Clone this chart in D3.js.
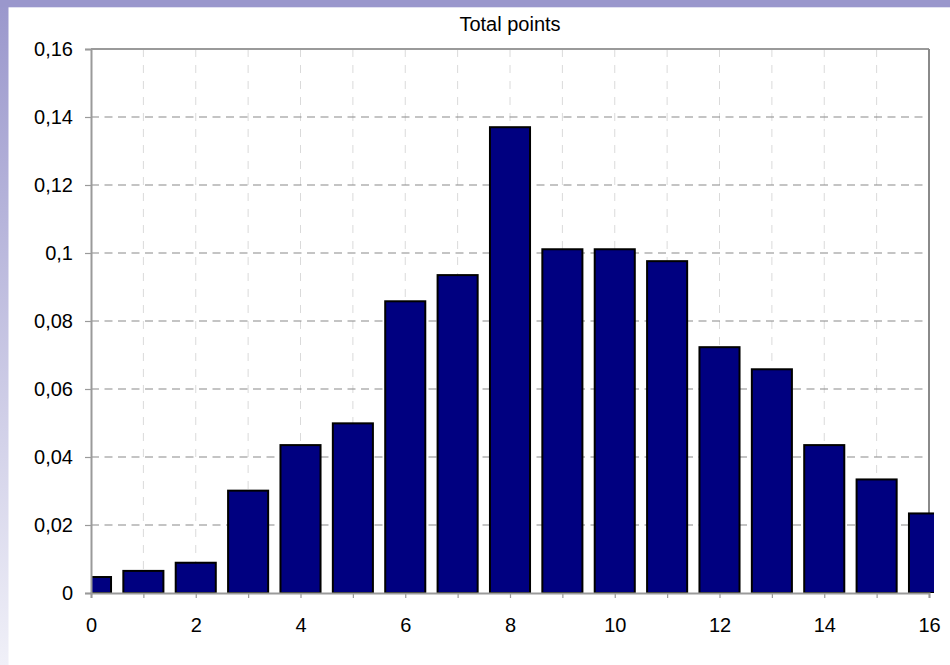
<!DOCTYPE html>
<html>
<head>
<meta charset="utf-8">
<script src="https://cdn.jsdelivr.net/npm/d3@7"></script>
<style>
  html, body { margin: 0; padding: 0; background: #fff; }
  svg { display: block; font-family: "Liberation Sans", Arial, sans-serif; }
</style>
</head>
<body>
<svg id="chart" width="950" height="665"></svg>
<script>
// ---- data ----
const categories = [0, 1, 2, 3, 4, 5, 6, 7, 8, 9, 10, 11, 12, 13, 14, 15, 16];
const values = [0.0047, 0.0065, 0.0089, 0.0301, 0.0435, 0.0499, 0.0858, 0.0935, 0.137,
                0.1011, 0.1011, 0.0976, 0.0723, 0.0658, 0.0435, 0.0334, 0.0234];
const yTicks = [0, 0.02, 0.04, 0.06, 0.08, 0.1, 0.12, 0.14, 0.16];
const xTicks = [0, 2, 4, 6, 8, 10, 12, 14, 16];
const xMinorTicks = d3.range(0, 17, 1);
const title = "Total points";

const W = 950, H = 665;
const margin = { left: 91, right: 950 - 929, top: 49, bottom: 665 - 593 };
const svg = d3.select("#chart");

// background frame
const defs = svg.append("defs");
const grad = defs.append("linearGradient").attr("id", "leftGrad")
  .attr("x1", 0).attr("y1", 0).attr("x2", 0).attr("y2", 1);
grad.append("stop").attr("offset", "0%").attr("stop-color", "#9a97cc");
grad.append("stop").attr("offset", "100%").attr("stop-color", "#f0f0f8");
svg.append("rect").attr("x", 0).attr("y", 0).attr("width", W).attr("height", H).attr("fill", "#fff");
svg.append("rect").attr("x", 0).attr("y", 0).attr("width", 8.5).attr("height", H).attr("fill", "url(#leftGrad)");
svg.append("rect").attr("x", 0).attr("y", 0).attr("width", W).attr("height", 7.3).attr("fill", "#9a97cc");

const x = d3.scaleLinear().domain([0, 16]).range([margin.left, W - margin.right]);
const y = d3.scaleLinear().domain([0, 0.16]).range([H - margin.bottom, margin.top]);
const unit = x(1) - x(0);
const barW = unit * 0.765;

// vertical gridlines
svg.append("g").selectAll("line").data(xMinorTicks.filter(d => d > 0 && d < 16)).join("line")
  .attr("x1", d => x(d)).attr("x2", d => x(d))
  .attr("y1", y(0.16)).attr("y2", y(0))
  .attr("stroke", "#dadada").attr("stroke-width", 1).attr("stroke-dasharray", "8,8");

// horizontal gridlines
svg.append("g").selectAll("line").data(yTicks.filter(d => d > 0 && d < 0.16)).join("line")
  .attr("x1", x(0)).attr("x2", x(16))
  .attr("y1", d => y(d)).attr("y2", d => y(d))
  .attr("stroke", "#8a8a8a").attr("stroke-width", 1.2).attr("stroke-dasharray", "8,5.5");

// plot border (top, right)
svg.append("line").attr("x1", x(0)).attr("x2", x(16)).attr("y1", y(0.16)).attr("y2", y(0.16))
  .attr("stroke", "#9a9a9a").attr("stroke-width", 2);
svg.append("line").attr("x1", x(16)).attr("x2", x(16)).attr("y1", y(0.16)).attr("y2", y(0))
  .attr("stroke", "#8a8a8a").attr("stroke-width", 2);

// bars
defs.append("clipPath").attr("id", "barClip").append("rect")
  .attr("x", x(0)).attr("y", 0).attr("width", x(16) - x(0) + 5).attr("height", y(0));
svg.append("g").attr("clip-path", "url(#barClip)")
  .selectAll("rect").data(categories).join("rect")
  .attr("x", (d) => x(d) - barW / 2)
  .attr("width", barW)
  .attr("y", (d, i) => y(values[i]))
  .attr("height", (d, i) => y(0) - y(values[i]))
  .attr("fill", "#000080")
  .attr("stroke", "#000")
  .attr("stroke-width", 2);

// y axis
const yAxis = d3.axisLeft(y).tickValues(yTicks)
  .tickFormat(d => d3.format("~g")(d).replace(".", ","))
  .tickSize(6).tickPadding(12);
const gy = svg.append("g").attr("transform", `translate(${x(0)},0)`).call(yAxis);
gy.select(".domain").attr("stroke", "#9a9a9a").attr("stroke-width", 2);
gy.selectAll(".tick line").attr("stroke", "#9a9a9a").attr("stroke-width", 1.2);
gy.selectAll("text").attr("font-size", 20).attr("fill", "#000")
  .attr("font-family", "Liberation Sans, Arial, sans-serif");

// x axis
const xAxis = d3.axisBottom(x).tickValues(xMinorTicks)
  .tickFormat(d => xTicks.includes(d) ? d : "")
  .tickSize(5).tickPadding(20);
const gx = svg.append("g").attr("transform", `translate(0,${y(0)})`).call(xAxis);
gx.select(".domain").attr("stroke", "#9a9a9a").attr("stroke-width", 2);
gx.selectAll(".tick line").attr("stroke", "#9a9a9a").attr("stroke-width", 1.2);
gx.selectAll("text").attr("font-size", 20).attr("fill", "#000")
  .attr("font-family", "Liberation Sans, Arial, sans-serif");

// title
svg.append("text").attr("x", 510).attr("y", 31).attr("text-anchor", "middle")
  .attr("font-size", 20).attr("fill", "#000").text(title);
</script>
</body>
</html>
